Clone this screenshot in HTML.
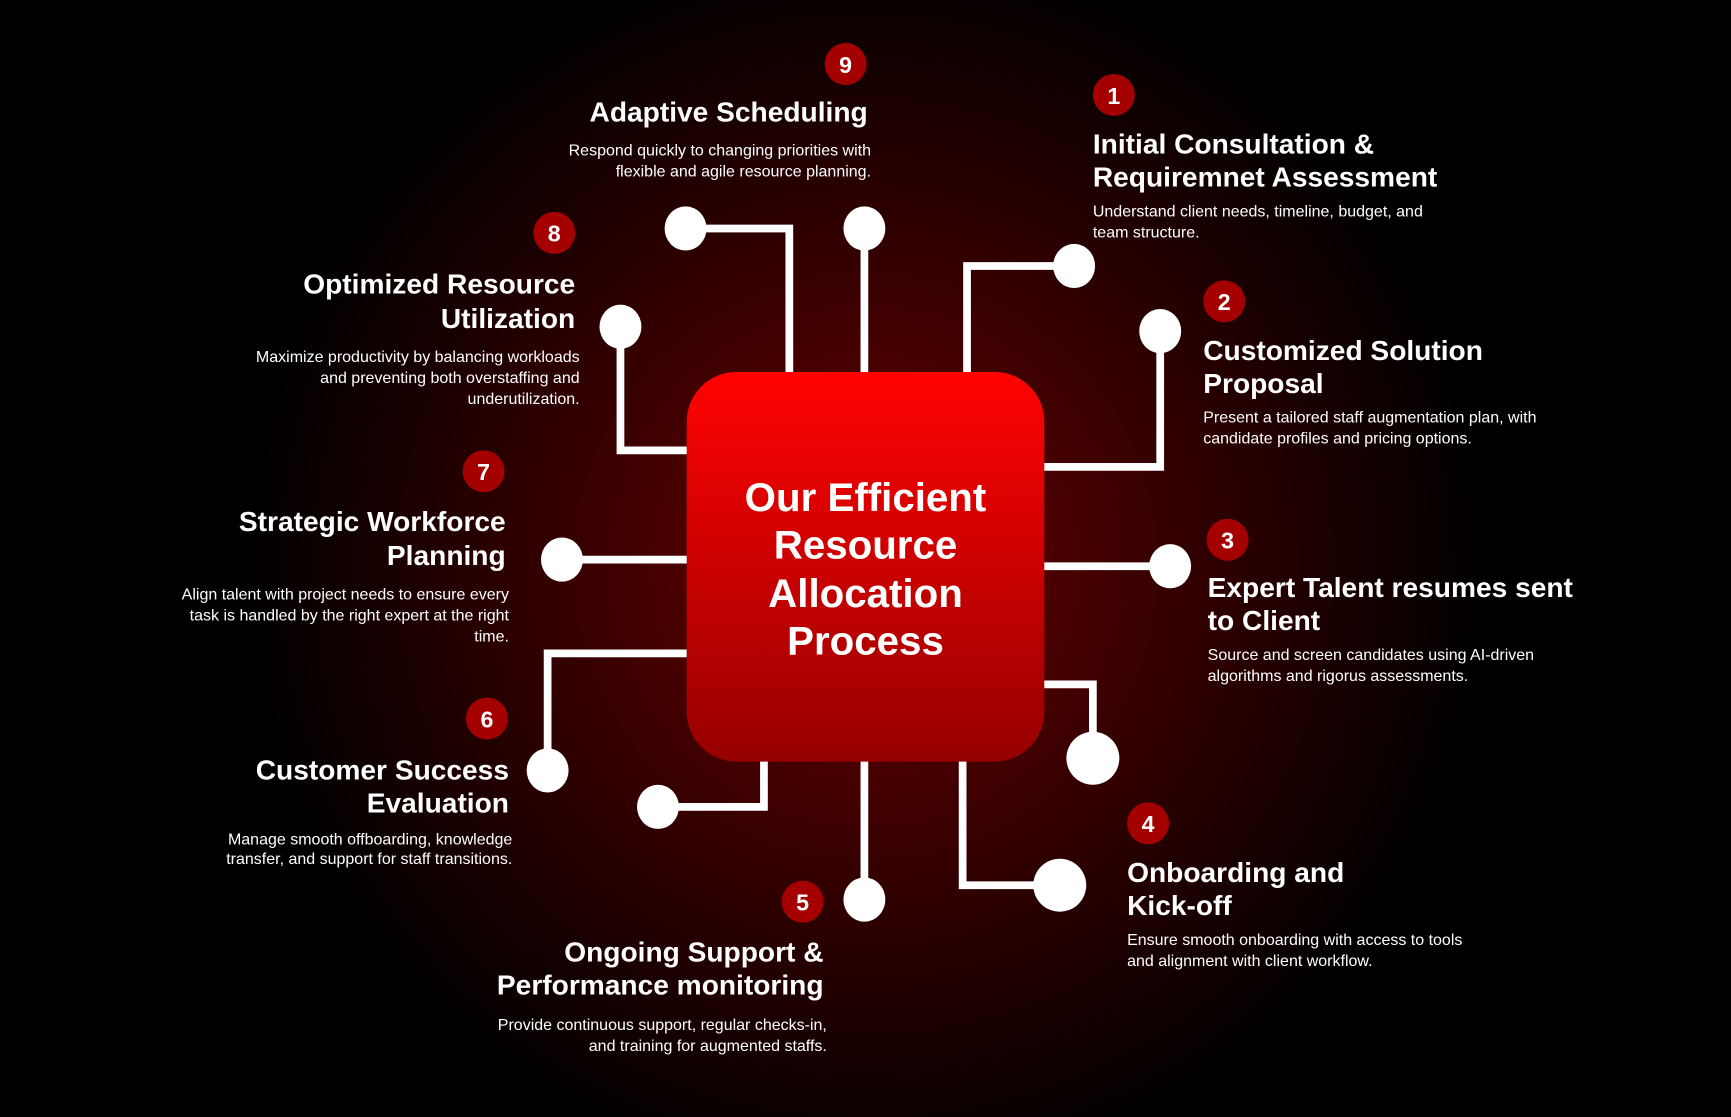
<!DOCTYPE html>
<html><head><meta charset="utf-8"><style>
html,body{margin:0;padding:0;background:#000;}
svg{display:block;}
text{font-family:"Liberation Sans",sans-serif;fill:#fff;}
.t{font-size:25.5px;font-weight:bold;}
.d{font-size:14.5px;}
.r{text-anchor:end;}
.b{font-size:21px;font-weight:bold;text-anchor:middle;}
.c{font-size:36.5px;font-weight:bold;text-anchor:middle;}
</style></head><body>
<svg width="1731" height="1117" viewBox="0 0 1568 1012" xmlns="http://www.w3.org/2000/svg">
<defs>
<radialGradient id="bg" cx="784" cy="513" r="560" gradientUnits="userSpaceOnUse">
<stop offset="0" stop-color="#6a0000"/>
<stop offset="0.45" stop-color="#3a0000"/>
<stop offset="1" stop-color="#000"/>
</radialGradient>
<linearGradient id="box" x1="0" y1="0" x2="0" y2="1">
<stop offset="0" stop-color="#ff0202"/>
<stop offset="1" stop-color="#960000"/>
</linearGradient>
</defs>
<rect width="1568" height="1012" fill="#000"/>
<rect width="1568" height="1012" fill="url(#bg)"/>
<g stroke="#fff" stroke-width="7" fill="none">
<path d="M621,207 H715 V340"/>
<path d="M783,207 V340"/>
<path d="M973,241 H876 V340"/>
<path d="M1051,300 V423 H943"/>
<path d="M1060,513 H943"/>
<path d="M943,620 H990 V687"/>
<path d="M872,687 V802 H960"/>
<path d="M783,687 V815"/>
<path d="M596,731 H692 V687"/>
<path d="M496,698 V592 H625"/>
<path d="M509,507 H625"/>
<path d="M562,296 V408 H625"/>
</g>
<g fill="#fff">
<ellipse cx="621" cy="207" rx="19" ry="20"/>
<ellipse cx="783" cy="207" rx="19" ry="20"/>
<ellipse cx="973" cy="241" rx="19" ry="20"/>
<ellipse cx="1051" cy="300" rx="19" ry="20"/>
<ellipse cx="1060" cy="513" rx="19" ry="20"/>
<ellipse cx="990" cy="687" rx="24" ry="24"/>
<ellipse cx="960" cy="802" rx="24" ry="24"/>
<ellipse cx="783" cy="815" rx="19" ry="20"/>
<ellipse cx="596" cy="731" rx="19" ry="20"/>
<ellipse cx="496" cy="698" rx="19" ry="20"/>
<ellipse cx="509" cy="507" rx="19" ry="20"/>
<ellipse cx="562" cy="296" rx="19" ry="20"/>
</g>
<rect x="622" y="337" width="324" height="353" rx="45" fill="url(#box)"/>
<text class="c" x="784" y="463">Our Efficient</text>
<text class="c" x="784" y="506">Resource</text>
<text class="c" x="784" y="550">Allocation</text>
<text class="c" x="784" y="593">Process</text>
<g fill="#a50000">
<circle cx="766" cy="58" r="19"/><circle cx="1009" cy="86" r="19"/><circle cx="1109" cy="273" r="19"/>
<circle cx="1112" cy="489" r="19"/><circle cx="1040" cy="746" r="19"/><circle cx="727" cy="817" r="19"/>
<circle cx="441" cy="651" r="19"/><circle cx="438" cy="427" r="19"/><circle cx="502" cy="211" r="19"/>
</g>
<text class="b" x="766" y="66">9</text><text class="b" x="1009" y="94">1</text><text class="b" x="1109" y="281">2</text>
<text class="b" x="1112" y="497">3</text><text class="b" x="1040" y="754">4</text><text class="b" x="727" y="825">5</text>
<text class="b" x="441" y="659">6</text><text class="b" x="438" y="435">7</text><text class="b" x="502" y="219">8</text>

<text class="t r" x="786" y="110">Adaptive Scheduling</text>
<text class="d r" x="789" y="141">Respond quickly to changing priorities with</text>
<text class="d r" x="789" y="160">flexible and agile resource planning.</text>

<text class="t" x="990" y="139">Initial Consultation &amp;</text>
<text class="t" x="990" y="169">Requiremnet Assessment</text>
<text class="d" x="990" y="196">Understand client needs, timeline, budget, and</text>
<text class="d" x="990" y="215">team structure.</text>

<text class="t" x="1090" y="326">Customized Solution</text>
<text class="t" x="1090" y="356">Proposal</text>
<text class="d" x="1090" y="383">Present a tailored staff augmentation plan, with</text>
<text class="d" x="1090" y="402">candidate profiles and pricing options.</text>

<text class="t" x="1094" y="541">Expert Talent resumes sent</text>
<text class="t" x="1094" y="571">to Client</text>
<text class="d" x="1094" y="598">Source and screen candidates using AI-driven</text>
<text class="d" x="1094" y="617">algorithms and rigorus assessments.</text>

<text class="t" x="1021" y="799">Onboarding and</text>
<text class="t" x="1021" y="829">Kick-off</text>
<text class="d" x="1021" y="856">Ensure smooth onboarding with access to tools</text>
<text class="d" x="1021" y="875">and alignment with client workflow.</text>

<text class="t r" x="746" y="871">Ongoing Support &amp;</text>
<text class="t r" x="746" y="901">Performance monitoring</text>
<text class="d r" x="749" y="933">Provide continuous support, regular checks-in,</text>
<text class="d r" x="749" y="952">and training for augmented staffs.</text>

<text class="t r" x="461" y="706">Customer Success</text>
<text class="t r" x="461" y="736">Evaluation</text>
<text class="d r" x="464" y="765">Manage smooth offboarding, knowledge</text>
<text class="d r" x="464" y="783">transfer, and support for staff transitions.</text>

<text class="t r" x="458" y="481">Strategic Workforce</text>
<text class="t r" x="458" y="512">Planning</text>
<text class="d r" x="461" y="543">Align talent with project needs to ensure every</text>
<text class="d r" x="461" y="562">task is handled by the right expert at the right</text>
<text class="d r" x="461" y="581">time.</text>

<text class="t r" x="521" y="266">Optimized Resource</text>
<text class="t r" x="521" y="297">Utilization</text>
<text class="d r" x="525" y="328">Maximize productivity by balancing workloads</text>
<text class="d r" x="525" y="347">and preventing both overstaffing and</text>
<text class="d r" x="525" y="366">underutilization.</text>
</svg>
</body></html>
